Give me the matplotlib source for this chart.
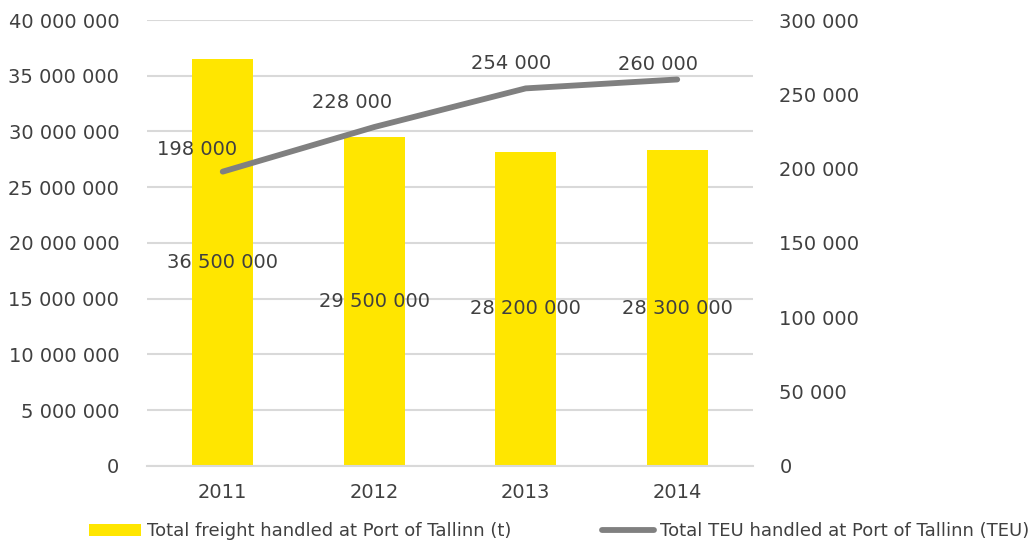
import matplotlib
matplotlib.use("Agg")
import numpy as np
from matplotlib import pyplot as plt
from matplotlib.ticker import FuncFormatter
from matplotlib.patches import Patch
from matplotlib.lines import Line2D

years = ["2011", "2012", "2013", "2014"]
freight_t = [36500000, 29500000, 28200000, 28300000]
teu = [198000, 228000, 254000, 260000]
freight_label = "Total freight handled at Port of Tallinn (t)"
teu_label = "Total TEU handled at Port of Tallinn (TEU)"

# pixel offsets of the TEU labels relative to their points
teu_label_offsets = [(-26, 22), (-22, 25), (-15, 25), (-19, 15)]

yellow = "#ffe600"
grey_line = "#808080"
text_col = "#404040"
grid_col = "#d9d9d9"

plt.rcParams["font.family"] = ["DejaVu Sans"]


def spaced(v, _pos=None):
    return f"{int(round(v)):,}".replace(",", " ")


fig = plt.figure(figsize=(10.33, 5.45), dpi=100)
ax = fig.add_axes([0.1423, 0.145, 0.5866, 0.8183])
ax2 = ax.twinx()

x = np.arange(len(years))
ax.bar(x, freight_t, width=0.4, color=yellow, zorder=2)
ax.set_xlim(-0.5, 3.5)
ax.set_ylim(0, 40000000)
ax.set_yticks(np.arange(0, 40000001, 5000000))
ax.yaxis.set_major_formatter(FuncFormatter(spaced))
ax.set_xticks(x)
ax.set_xticklabels(years)
ax.grid(axis="y", color=grid_col, lw=1.5, zorder=0)
ax.set_axisbelow(True)
for side in ["top", "left", "right"]:
    ax.spines[side].set_visible(False)
ax.spines["bottom"].set_color(grid_col)
ax.spines["bottom"].set_linewidth(1.5)
ax.tick_params(axis="both", length=0, labelsize=14, labelcolor=text_col)
ax.tick_params(axis="y", pad=20)
ax.tick_params(axis="x", pad=12)

for xi, v in zip(x, freight_t):
    ax.text(xi, v / 2, spaced(v), ha="center", va="center", fontsize=14, color=text_col, zorder=3)

ax2.plot(x, teu, color=grey_line, lw=4.2, solid_capstyle="round", zorder=3)
ax2.set_ylim(0, 300000)
ax2.set_yticks(np.arange(0, 300001, 50000))
ax2.yaxis.set_major_formatter(FuncFormatter(spaced))
for side in ["top", "left", "right", "bottom"]:
    ax2.spines[side].set_visible(False)
ax2.tick_params(axis="y", length=0, labelsize=14, labelcolor=text_col, pad=19)

for xi, v, off in zip(x, teu, teu_label_offsets):
    ax2.annotate(spaced(v), (xi, v), xytext=off, textcoords="offset pixels",
                 ha="center", va="center", fontsize=14, color=text_col)

handles = [
    Patch(facecolor=yellow, edgecolor="none"),
    Line2D([0], [0], color=grey_line, lw=4.2, solid_capstyle="round"),
]
fig.legend(handles, [freight_label, teu_label], loc="center left", bbox_to_anchor=(0.086, 0.025),
           ncol=2, frameon=False, fontsize=13, labelcolor=text_col, handlelength=2.9,
           handleheight=0.6, handletextpad=0.33, columnspacing=5.0, borderpad=0, borderaxespad=0)

fig.savefig("out.png", dpi=100)
